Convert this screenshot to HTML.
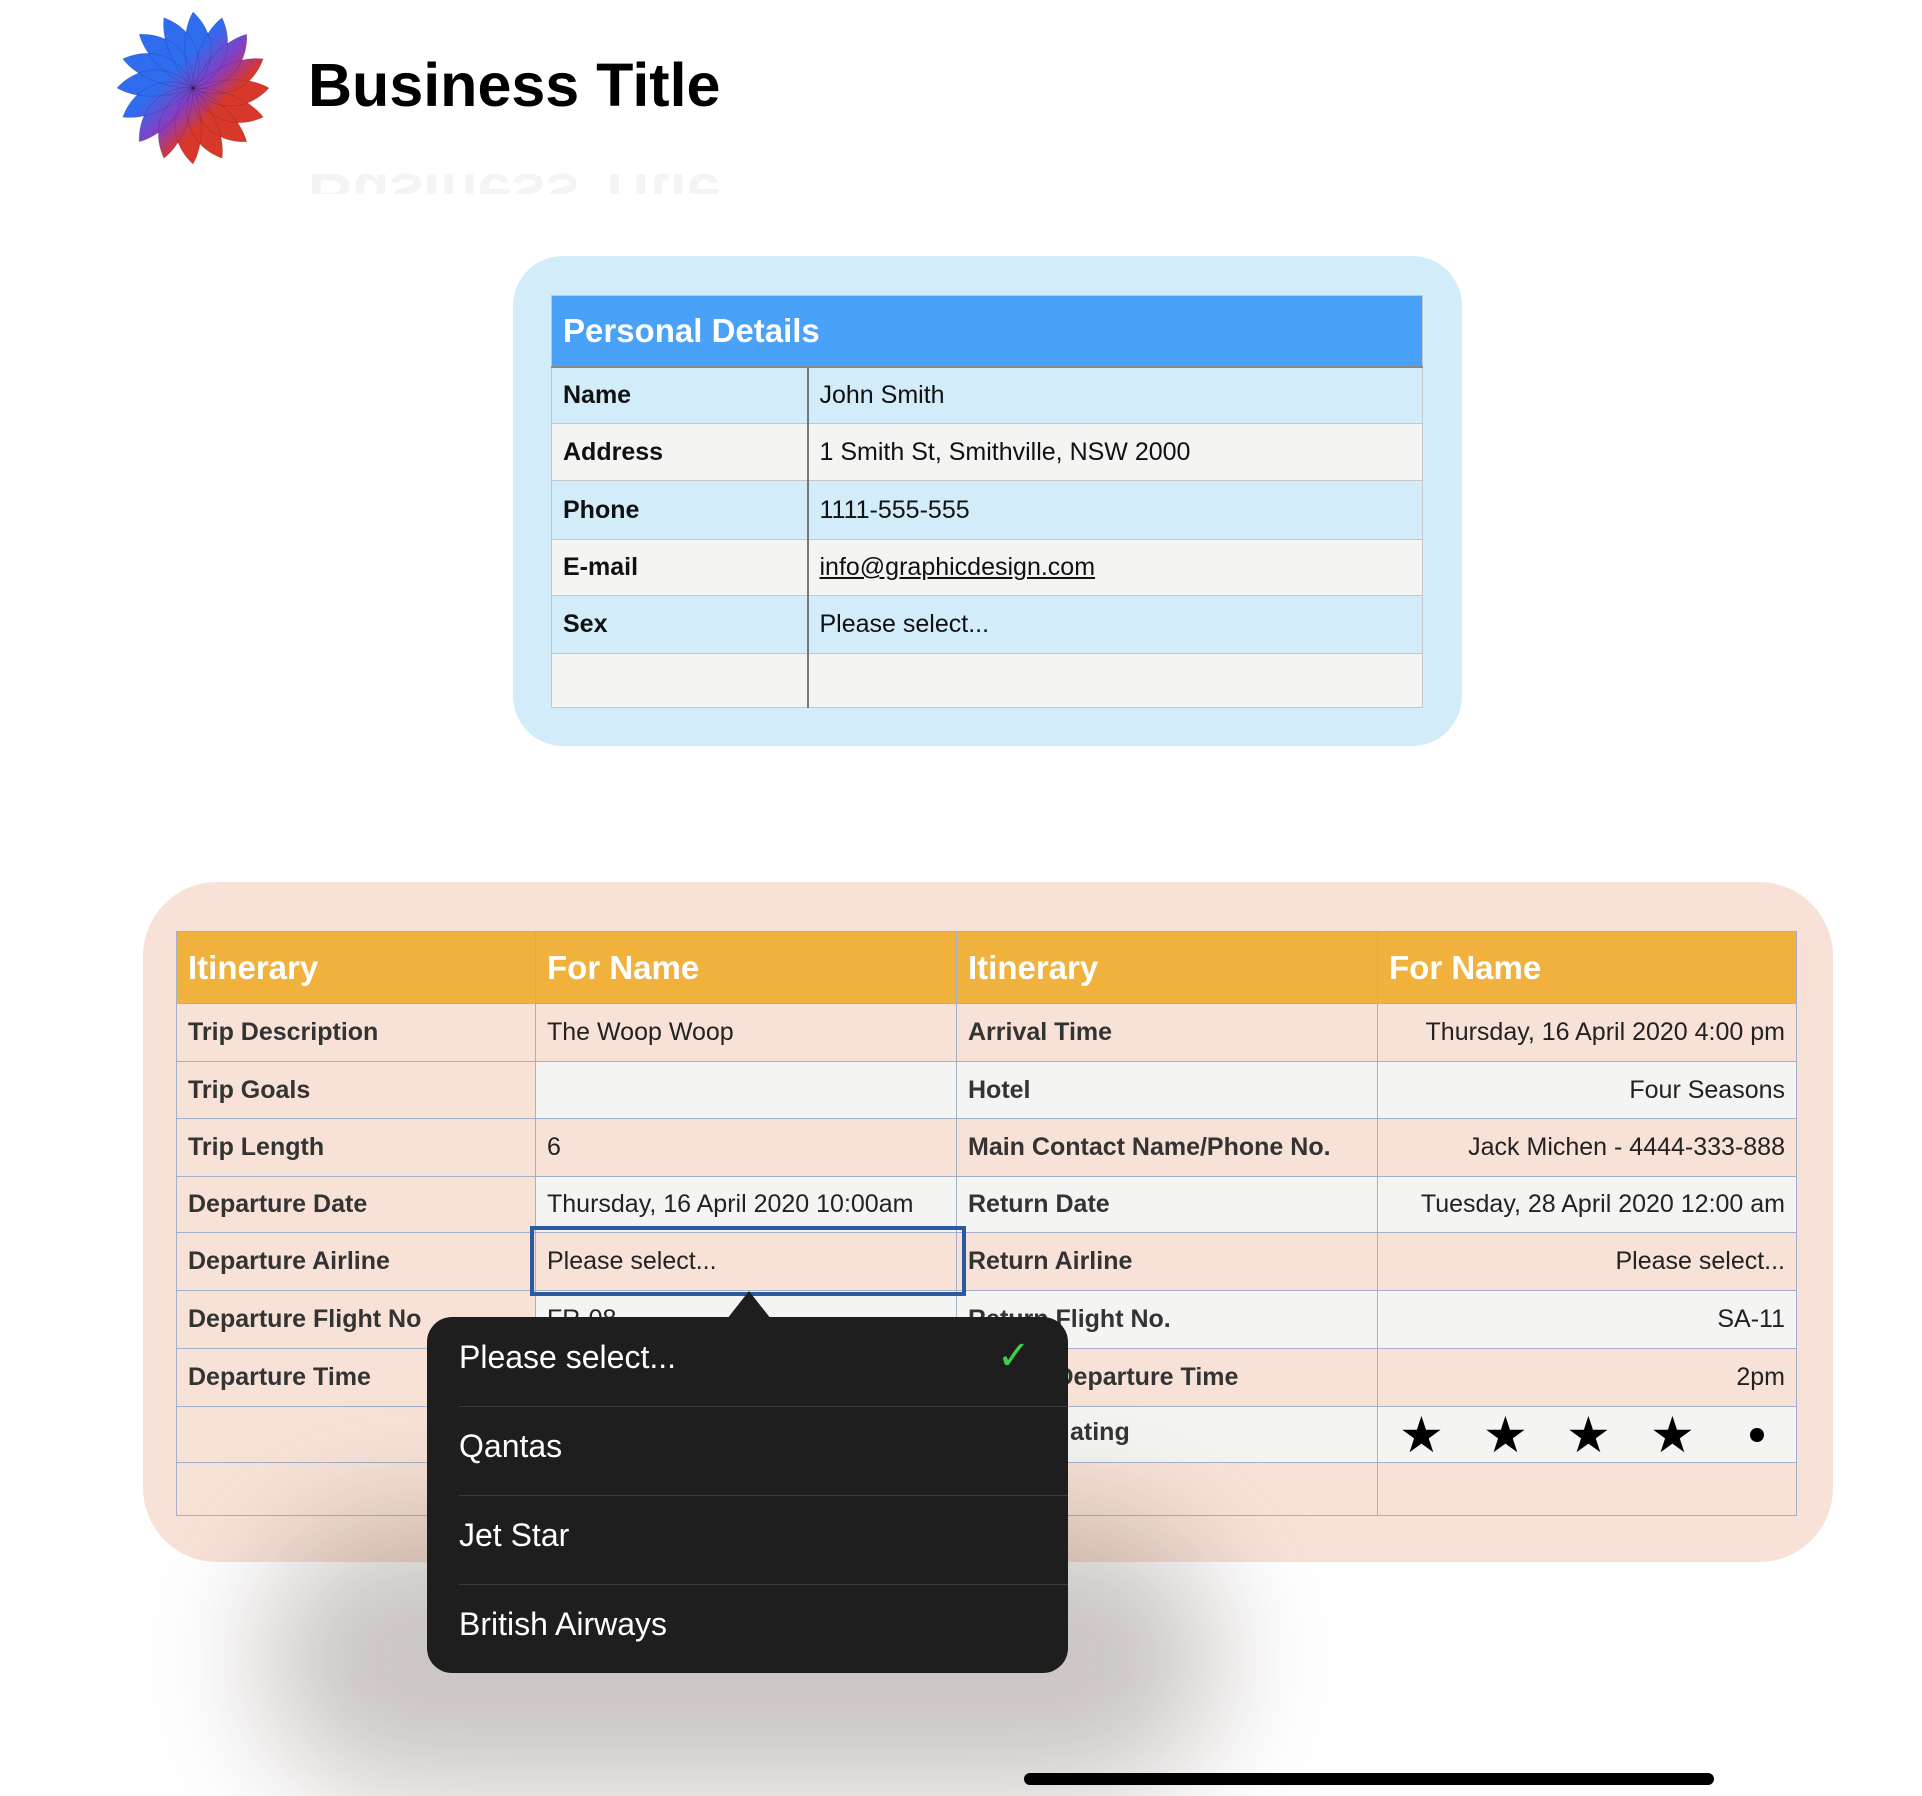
<!DOCTYPE html>
<html style="width:1922px;height:1796px;overflow:hidden"><head><meta charset="utf-8"><style>
*{margin:0;padding:0;box-sizing:border-box}
body{width:1922px;height:1796px;background:#fff;position:relative;overflow:hidden;font-family:"Liberation Sans",Arial,sans-serif}
.abs{position:absolute}
table{border-collapse:collapse;table-layout:fixed;position:absolute}
td{font-size:25px;padding:0 11px;white-space:nowrap;overflow:hidden}
#pd td{border:1px solid #c4c8cc;color:#111}
#pd td.k{border-right:2px solid #777;font-weight:bold}
#it td{border:1px solid #a4b0c8;color:#222}
#it td.k{font-weight:bold;color:#333}
#it td.r{text-align:right}
.pe{background:#f8e2d8}.gr{background:#f4f4f2}
.bl{background:#d2ecfa}
</style></head><body>
<svg class="abs" style="left:113px;top:8px" width="160" height="160" viewBox="-80 -80 160 160">
<defs><linearGradient id="g" gradientUnits="userSpaceOnUse" x1="-45" y1="-45" x2="45" y2="45"><stop offset="0.3" stop-color="#2f6cf0"/><stop offset="0.55" stop-color="#8a3cc0"/><stop offset="0.75" stop-color="#d8382a"/></linearGradient>
<path id="pt" d="M0,0 C22,-18 26,-52 0,-76 C-12,-55 -10,-25 0,0Z"/>
<mask id="m"><g fill="#fff"><use href="#pt" transform="rotate(0)"/><use href="#pt" transform="rotate(22.5)"/><use href="#pt" transform="rotate(45)"/><use href="#pt" transform="rotate(67.5)"/><use href="#pt" transform="rotate(90)"/><use href="#pt" transform="rotate(112.5)"/><use href="#pt" transform="rotate(135)"/><use href="#pt" transform="rotate(157.5)"/><use href="#pt" transform="rotate(180)"/><use href="#pt" transform="rotate(202.5)"/><use href="#pt" transform="rotate(225)"/><use href="#pt" transform="rotate(247.5)"/><use href="#pt" transform="rotate(270)"/><use href="#pt" transform="rotate(292.5)"/><use href="#pt" transform="rotate(315)"/><use href="#pt" transform="rotate(337.5)"/></g></mask></defs>
<rect x="-80" y="-80" width="160" height="160" fill="url(#g)" mask="url(#m)"/>
<g fill="none" stroke="#000" stroke-opacity="0.12" stroke-width="1">
<use href="#pt" transform="rotate(0)"/><use href="#pt" transform="rotate(22.5)"/><use href="#pt" transform="rotate(45)"/><use href="#pt" transform="rotate(67.5)"/><use href="#pt" transform="rotate(90)"/><use href="#pt" transform="rotate(112.5)"/><use href="#pt" transform="rotate(135)"/><use href="#pt" transform="rotate(157.5)"/><use href="#pt" transform="rotate(180)"/><use href="#pt" transform="rotate(202.5)"/><use href="#pt" transform="rotate(225)"/><use href="#pt" transform="rotate(247.5)"/><use href="#pt" transform="rotate(270)"/><use href="#pt" transform="rotate(292.5)"/><use href="#pt" transform="rotate(315)"/><use href="#pt" transform="rotate(337.5)"/>
</g>
</svg>
<div class="abs" style="left:308px;top:50px;font-size:61px;font-weight:bold;color:#000">Business Title</div>
<div class="abs" style="left:308px;top:172px;height:22px;overflow:hidden;"><div style="font-size:61px;font-weight:bold;color:#000;opacity:0.04;transform:scaleY(-1);transform-origin:50% 0;margin-top:58px">Business Title</div></div>

<div class="abs" style="left:513px;top:256px;width:949px;height:490px;background:#d2ecfa;border-radius:50px"></div>
<table id="pd" style="left:551px;top:295px;width:871px">
<colgroup><col style="width:256px"><col style="width:615px"></colgroup>
<tr style="height:71px;background:#4aa2f8"><td colspan="2" style="color:#fff;font-weight:bold;font-size:33px;border-bottom:2px solid #888">Personal Details</td></tr>
<tr class="bl" style="height:57px"><td class="k">Name</td><td>John Smith</td></tr>
<tr class="gr" style="height:57px"><td class="k">Address</td><td>1 Smith St, Smithville, NSW 2000</td></tr>
<tr class="bl" style="height:59px"><td class="k">Phone</td><td>1111-555-555</td></tr>
<tr class="gr" style="height:56px"><td class="k">E-mail</td><td style="text-decoration:underline">info@graphicdesign.com</td></tr>
<tr class="bl" style="height:58px"><td class="k">Sex</td><td>Please select...</td></tr>
<tr class="gr" style="height:54px"><td class="k"></td><td></td></tr>
</table>

<div class="abs" style="left:143px;top:882px;width:1690px;height:680px;background:#f8e2d8;border-radius:74px"></div>
<table id="it" style="left:176px;top:931px;width:1620px">
<colgroup><col style="width:359px"><col style="width:421px"><col style="width:421px"><col style="width:419px"></colgroup>
<tr style="height:72px;background:#f0b13d"><td style="color:#fff;font-weight:bold;font-size:33px">Itinerary</td><td style="color:#fff;font-weight:bold;font-size:33px">For Name</td><td style="color:#fff;font-weight:bold;font-size:33px">Itinerary</td><td style="color:#fff;font-weight:bold;font-size:33px">For Name</td></tr>
<tr class="pe" style="height:58px"><td class="k">Trip Description</td><td>The Woop Woop</td><td class="k">Arrival Time</td><td class="r">Thursday, 16 April 2020 4:00 pm</td></tr>
<tr class="gr" style="height:57px"><td class="k pe">Trip Goals</td><td></td><td class="k">Hotel</td><td class="r">Four Seasons</td></tr>
<tr class="pe" style="height:58px"><td class="k">Trip Length</td><td>6</td><td class="k">Main Contact Name/Phone No.</td><td class="r">Jack Michen - 4444-333-888</td></tr>
<tr class="gr" style="height:56px"><td class="k pe">Departure Date</td><td>Thursday, 16 April 2020 10:00am</td><td class="k">Return Date</td><td class="r">Tuesday, 28 April 2020 12:00 am</td></tr>
<tr class="pe" style="height:58px"><td class="k">Departure Airline</td><td>Please select...</td><td class="k">Return Airline</td><td class="r">Please select...</td></tr>
<tr class="gr" style="height:58px"><td class="k pe">Departure Flight No</td><td>FR-08</td><td class="k">Return Flight No.</td><td class="r">SA-11</td></tr>
<tr class="pe" style="height:58px"><td class="k">Departure Time</td><td></td><td class="k">Return Departure Time</td><td class="r">2pm</td></tr>
<tr class="gr" style="height:56px"><td class="pe"></td><td></td><td class="k">Rating</td><td></td></tr>
<tr class="pe" style="height:53px"><td></td><td></td><td></td><td></td></tr>
</table>
<div class="abs" style="left:1070px;top:1418px;font-size:25px;font-weight:bold;color:#333">ating</div>
<div class="abs" style="left:1399px;top:1405px;font-size:50px;line-height:60px;color:#000">★</div>
<div class="abs" style="left:1483px;top:1405px;font-size:50px;line-height:60px;color:#000">★</div>
<div class="abs" style="left:1566px;top:1405px;font-size:50px;line-height:60px;color:#000">★</div>
<div class="abs" style="left:1650px;top:1405px;font-size:50px;line-height:60px;color:#000">★</div>
<div class="abs" style="left:1750px;top:1428px;width:14px;height:14px;border-radius:50%;background:#000"></div>
<div class="abs" style="left:530px;top:1226px;width:436px;height:70px;border:4px solid #2c5aa0"></div>

<div class="abs" style="left:260px;top:1520px;width:960px;height:276px;background:rgba(70,50,40,0.28);border-radius:150px;filter:blur(60px)"></div>
<div class="abs" style="left:427px;top:1317px;width:641px;height:356px;background:#1e1e1f;border-radius:25px"></div>
<div class="abs" style="left:727px;top:1291px;width:0;height:0;border-left:22px solid transparent;border-right:22px solid transparent;border-bottom:28px solid #1e1e1f"></div>
<div class="abs" style="left:427px;top:1317px;width:641px;height:356px;color:#fff;font-size:32px">
<div style="position:absolute;left:32px;top:22px">Please select...</div>
<div style="position:absolute;left:570px;top:16px;color:#3ecf4f;font-size:40px">✓</div>
<div style="position:absolute;left:32px;top:89px;width:609px;border-top:1px solid #3a3a3c"></div>
<div style="position:absolute;left:32px;top:111px">Qantas</div>
<div style="position:absolute;left:32px;top:178px;width:609px;border-top:1px solid #3a3a3c"></div>
<div style="position:absolute;left:32px;top:200px">Jet Star</div>
<div style="position:absolute;left:32px;top:267px;width:609px;border-top:1px solid #3a3a3c"></div>
<div style="position:absolute;left:32px;top:289px">British Airways</div>
</div>
<div class="abs" style="left:1024px;top:1773px;width:690px;height:12px;background:#000;border-radius:6px"></div>
</body></html>
